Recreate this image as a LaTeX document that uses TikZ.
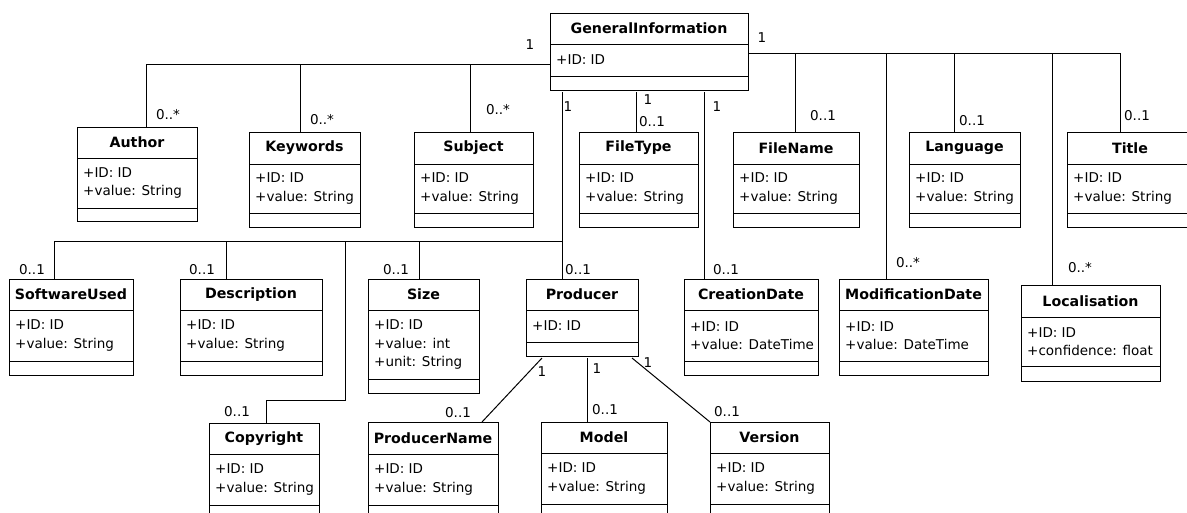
\documentclass[tikz,border=0pt]{standalone}
\usepackage{fontspec}
\setmainfont{DejaVu Sans}
\usetikzlibrary{calc}
\newcommand{\attrfont}{\fontsize{13.5}{18.5}\selectfont}
\newcommand{\titlefont}{\fontsize{14.2}{16}\selectfont\bfseries}
\tikzset{
  clsbox/.style={draw=black, line width=1pt, inner sep=0pt, outer sep=0pt, fill=white},
  clsline/.style={draw=black, line width=1pt},
  clstitle/.style={font=\titlefont, inner sep=0pt, anchor=center},
  clsattr/.style={font=\attrfont, inner sep=0pt, anchor=west, align=left, xshift=6pt},
  conn/.style={draw=black, line width=1pt},
  mult/.style={font=\attrfont, inner sep=0pt, anchor=center}
}
% name, left, top, right, header bottom, attr bottom, bottom, title, attributes
\newcommand{\umlcls}[9]{%
  \node[clsbox, minimum width={#4-#2}, minimum height={#7-#3}, anchor=north west] (#1) at (#2,#3) {};
  \draw[clsline] (#2,#5) -- (#4,#5) (#2,#6) -- (#4,#6);
  \node[clstitle] (#1-t) at ({(#2+#4)/2},{(#3+#5)/2}) {#8};
  \node[clsattr] (#1-a) at (#2,{(#5+#6)/2}) {#9};
}
\begin{document}
\begin{tikzpicture}[x=1pt,y=-1pt]
\fill[white] (0,0) rectangle (1187,512);
\useasboundingbox (0,0) rectangle (1187,512);
\clip (0,0) rectangle (1187,512);

% classes
\umlcls{gi}{550}{13}{748}{44}{76}{90}{GeneralInformation}{+ID: ID}
\umlcls{author}{77}{127}{197}{158}{208}{221}{Author}{+ID: ID\\+value: String}
\umlcls{keywords}{249}{132}{360}{164}{213}{227}{Keywords}{+ID: ID\\+value: String}
\umlcls{subject}{414}{132}{533}{164}{213}{227}{Subject}{+ID: ID\\+value: String}
\umlcls{filetype}{579}{132}{698}{164}{213}{227}{FileType}{+ID: ID\\+value: String}
\umlcls{filename}{733}{132}{859}{164}{213}{227}{FileName}{+ID: ID\\+value: String}
\umlcls{language}{909}{132}{1020}{164}{213}{227}{Language}{+ID: ID\\+value: String}
\umlcls{title}{1067}{132}{1193}{164}{213}{227}{Title}{+ID: ID\\+value: String}
\umlcls{softwareused}{9}{279}{133}{310}{361}{375}{SoftwareUsed}{+ID: ID\\+value: String}
\umlcls{description}{180}{279}{322}{310}{361}{375}{Description}{+ID: ID\\+value: String}
\umlcls{size}{368}{279}{479}{310}{379}{393}{Size}{+ID: ID\\+value: int\\+unit: String}
\umlcls{producer}{526}{279}{638}{310}{342}{356}{Producer}{+ID: ID}
\umlcls{creationdate}{684}{279}{818}{310}{361}{375}{CreationDate}{+ID: ID\\+value: DateTime}
\umlcls{modificationdate}{839}{279}{988}{310}{361}{375}{ModificationDate}{+ID: ID\\+value: DateTime}
\umlcls{localisation}{1021}{285}{1160}{317}{366}{381}{Localisation}{+ID: ID\\+confidence: float}
\umlcls{copyright}{209}{423}{319}{454}{505}{519}{Copyright}{+ID: ID\\+value: String}
\umlcls{producername}{368}{422}{498}{454}{505}{519}{ProducerName}{+ID: ID\\+value: String}
\umlcls{model}{541}{422}{667}{453}{504}{518}{Model}{+ID: ID\\+value: String}
\umlcls{version}{710}{422}{829}{453}{504}{518}{Version}{+ID: ID\\+value: String}

% left association bus
\coordinate (gl) at (gi.west |- 0,64);
\draw[conn] (gl) -| ([xshift=9pt]author.north);
\draw[conn] (gl) -| ([xshift=-4.5pt]keywords.north);
\draw[conn] (gl) -| ([xshift=-3.5pt]subject.north);

% right association bus
\coordinate (gr) at (gi.east |- 0,53);
\draw[conn] (gr) -| ([xshift=-1pt]filename.north);
\draw[conn] (gr) -| ([xshift=-27pt]modificationdate.north);
\draw[conn] (gr) -| ([xshift=-10.5pt]language.north);
\draw[conn] (gr) -| ([xshift=-38pt]localisation.north);
\draw[conn] (gr) -| ([xshift=-10pt]title.north);

% lines below GeneralInformation
\coordinate (ft) at ([xshift=-2.5pt]filetype.north);
\draw[conn] ([yshift=-2pt]gi.south -| ft) -- (ft);
\coordinate (cd) at ([xshift=-47pt]creationdate.north);
\draw[conn] ([yshift=-2pt]gi.south -| cd) -- (cd);
\coordinate (px) at ([xshift=-20pt]producer.north);
\draw[conn] ([yshift=-2pt]gi.south -| px) -- (px);

% branch from the producer line
\coordinate (br) at (px |- 0,241);
\draw[conn] (br) -| ([xshift=-17pt]softwareused.north);
\draw[conn] (br) -| ([xshift=-25pt]description.north);
\draw[conn] (br) -| ([xshift=-4.5pt]size.north);
\coordinate (cb) at (345,241);
\coordinate (cc) at ([xshift=2pt]copyright.north);
\draw[conn] (cb) |- (cc |- 0,400) -- (cc);

% producer parts
\draw[conn] ([xshift=16pt,yshift=-2pt]producer.south west) -- ([xshift=-16pt]producername.north east);
\coordinate (mx) at ([xshift=-17pt]model.north);
\draw[conn] ([yshift=-2pt]producer.south -| mx) -- (mx);
\draw[conn] ([xshift=-6pt,yshift=-2pt]producer.south east) -- (version.north west);

% multiplicities
\node[mult] (m1) at (530,45) {1};
\node[mult] (m2) at (762,38) {1};
\node[mult] (m3) at (168,115) {0..*};
\node[mult] (m4) at (322,120) {0..*};
\node[mult] (m5) at (498,110) {0..*};
\node[mult] (m6) at (568,107) {1};
\node[mult] (m7) at (648,100) {1};
\node[mult] (m8) at (652,122) {0..1};
\node[mult] (m9) at (717,107) {1};
\node[mult] (m10) at (823,116) {0..1};
\node[mult] (m11) at (972,121) {0..1};
\node[mult] (m12) at (1137,116) {0..1};
\node[mult] (m13) at (32,270) {0..1};
\node[mult] (m14) at (202,270) {0..1};
\node[mult] (m15) at (396,270) {0..1};
\node[mult] (m16) at (578,270) {0..1};
\node[mult] (m17) at (726,270) {0..1};
\node[mult] (m18) at (908,263) {0..*};
\node[mult] (m19) at (1080,268) {0..*};
\node[mult] (m20) at (237,412) {0..1};
\node[mult] (m21) at (542,372) {1};
\node[mult] (m22) at (458,413) {0..1};
\node[mult] (m23) at (597,369) {1};
\node[mult] (m24) at (605,410) {0..1};
\node[mult] (m25) at (648,363) {1};
\node[mult] (m26) at (727,412) {0..1};
\end{tikzpicture}
\end{document}
